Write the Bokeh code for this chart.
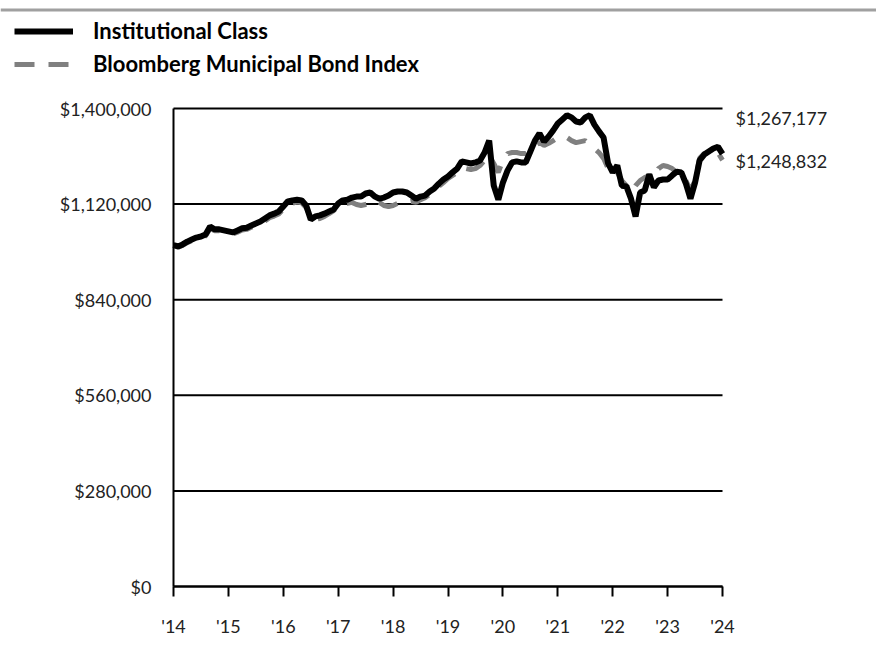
from bokeh.plotting import figure
from bokeh.models import (FixedTicker, NumeralTickFormatter, Range1d, Label, Span,
                          Legend, LegendItem)
from bokeh.embed import file_html
from bokeh.resources import INLINE

# Monthly values, Jan 2014 .. Jan 2024 (121 points)
institutional = [
    1000000, 996000, 1002000, 1010000, 1016000, 1022000, 1025000, 1031000, 1054000, 1046000,
    1046000, 1043000, 1040000, 1037000, 1043000, 1049000, 1051000, 1057000, 1063000, 1069000,
    1078000, 1087000, 1092000, 1098000, 1113000, 1128000, 1131000, 1133000, 1131000, 1116000,
    1075000, 1084000, 1087000, 1092000, 1098000, 1104000, 1122000, 1131000, 1133000, 1139000,
    1142000, 1142000, 1151000, 1154000, 1142000, 1136000, 1139000, 1145000, 1154000, 1157000,
    1157000, 1154000, 1145000, 1136000, 1142000, 1145000, 1157000, 1166000, 1180000, 1192000,
    1201000, 1213000, 1224000, 1245000, 1242000, 1239000, 1242000, 1248000, 1271000, 1306000,
    1174000, 1133000, 1183000, 1218000, 1242000, 1245000, 1242000, 1242000, 1274000, 1306000,
    1327000, 1303000, 1318000, 1336000, 1356000, 1368000, 1380000, 1374000, 1362000, 1359000,
    1374000, 1380000, 1353000, 1333000, 1315000, 1239000, 1213000, 1233000, 1174000, 1172000,
    1136000, 1084000, 1154000, 1160000, 1207000, 1169000, 1189000, 1192000, 1192000, 1204000,
    1215000, 1213000, 1180000, 1136000, 1183000, 1248000, 1265000, 1274000, 1283000, 1288000,
    1267177,
]
index = [
    1000000, 994000, 999000, 1007000, 1013000, 1018000, 1021000, 1027000, 1049000, 1042000,
    1042000, 1039000, 1036000, 1033000, 1038000, 1044000, 1046000, 1052000, 1058000, 1063000,
    1071000, 1080000, 1085000, 1091000, 1105000, 1119000, 1123000, 1126000, 1124000, 1110000,
    1081000, 1075000, 1078000, 1084000, 1092000, 1101000, 1113000, 1122000, 1122000, 1125000,
    1119000, 1116000, 1119000, 1122000, 1131000, 1125000, 1116000, 1113000, 1116000, 1122000,
    1128000, 1125000, 1128000, 1125000, 1133000, 1139000, 1148000, 1160000, 1172000, 1183000,
    1195000, 1204000, 1213000, 1227000, 1224000, 1221000, 1224000, 1233000, 1248000, 1262000,
    1239000, 1213000, 1248000, 1268000, 1271000, 1271000, 1268000, 1268000, 1277000, 1292000,
    1300000, 1292000, 1298000, 1306000, 1315000, 1318000, 1315000, 1306000, 1300000, 1303000,
    1306000, 1295000, 1283000, 1271000, 1254000, 1224000, 1204000, 1213000, 1189000, 1174000,
    1154000, 1174000, 1189000, 1198000, 1204000, 1195000, 1224000, 1233000, 1230000, 1224000,
    1213000, 1207000, 1189000, 1160000, 1189000, 1254000, 1268000, 1271000, 1277000, 1271000,
    1248832,
]
series_names = ["Institutional Class", "Bloomberg Municipal Bond Index"]
year_ticks = [2014, 2015, 2016, 2017, 2018, 2019, 2020, 2021, 2022, 2023, 2024]
year_labels = ["'14", "'15", "'16", "'17", "'18", "'19", "'20", "'21", "'22", "'23", "'24"]
y_ticks = [0, 280000, 560000, 840000, 1120000, 1400000]

months = [2014 + i / 12 for i in range(len(institutional))]

FONT = "Lato"
W, H = 876, 672
# pixel box of the data area inside the canvas
PL, PR, PT, PB = 173, 722, 108, 586
X0, X1 = year_ticks[0], year_ticks[-1]
Y0, Y1 = y_ticks[0], y_ticks[-1]
xpp = (X1 - X0) / (PR - PL)      # data units per pixel
ypp = (Y1 - Y0) / (PB - PT)

p = figure(width=W, height=H,
           x_range=Range1d(X0 - PL * xpp, X1 + (W - PR) * xpp),
           y_range=Range1d(Y0 - (H - PB) * ypp, Y1 + PT * ypp),
           output_backend="svg", toolbar_location=None,
           min_border_left=0, min_border_right=0, min_border_top=0, min_border_bottom=0)
p.outline_line_color = None
p.background_fill_color = "white"
p.border_fill_color = "white"
p.xgrid.visible = False
p.ygrid.visible = False

# horizontal grid lines across the data area
p.segment(x0=[X0] * len(y_ticks), y0=y_ticks, x1=[X1] * len(y_ticks), y1=y_ticks,
          line_color="black", line_width=2)

r_idx = p.line(months, index, line_color="#808080", line_width=5, line_dash="20 14")
r_inst = p.line(months, institutional, line_color="black", line_width=6)

p.yaxis.fixed_location = X0
p.yaxis.bounds = (Y0, Y1)
p.yaxis.ticker = FixedTicker(ticks=y_ticks)
p.yaxis.formatter = NumeralTickFormatter(format="$0,0")
p.yaxis.major_tick_out = 0
p.yaxis.major_tick_in = 0
p.yaxis.minor_tick_out = 0
p.yaxis.minor_tick_in = 0
p.yaxis.axis_line_width = 2
p.yaxis.major_label_standoff = 22
p.yaxis.major_label_text_font = FONT
p.yaxis.major_label_text_font_size = "18px"
p.yaxis.major_label_text_color = "#222222"

p.xaxis.fixed_location = Y0
p.xaxis.bounds = (X0, X1)
p.xaxis.ticker = FixedTicker(ticks=year_ticks)
p.xaxis.major_label_overrides = {t: l for t, l in zip(year_ticks, year_labels)}
p.xaxis.major_tick_out = 10
p.xaxis.major_tick_in = 0
p.xaxis.minor_tick_out = 0
p.xaxis.minor_tick_in = 0
p.xaxis.axis_line_width = 2
p.xaxis.major_tick_line_width = 2
p.xaxis.major_label_standoff = 18
p.xaxis.major_label_text_font = FONT
p.xaxis.major_label_text_font_size = "18px"
p.xaxis.major_label_text_color = "#222222"

# end-value labels to the right of the last point; the first is lifted clear of the second
for val, lift in [(institutional[-1], 36), (index[-1], -1)]:
    p.add_layout(Label(x=months[-1], y=val + lift * ypp, x_offset=13,
                       text="${:,}".format(val), text_font=FONT,
                       text_font_size="18px", text_color="#222222",
                       text_baseline="middle", text_align="left"))

# grey rule across the top of the page
p.add_layout(Span(location=Y1 + (PT - 9.5) * ypp, dimension="width",
                  line_color="#a0a0a0", line_width=3))

legend = Legend(items=[LegendItem(label=series_names[0], renderers=[r_inst]),
                       LegendItem(label=series_names[1], renderers=[r_idx])],
                location=(14, H - 17 - 60),
                orientation="vertical", padding=0, margin=0, spacing=6,
                glyph_width=59, glyph_height=20, label_height=20, label_standoff=20,
                label_text_font=FONT, label_text_font_style="bold",
                label_text_font_size="22px", label_text_color="black",
                border_line_color=None, background_fill_alpha=0)
p.add_layout(legend, "center")

open("out.html", "w").write(file_html(p, INLINE))
